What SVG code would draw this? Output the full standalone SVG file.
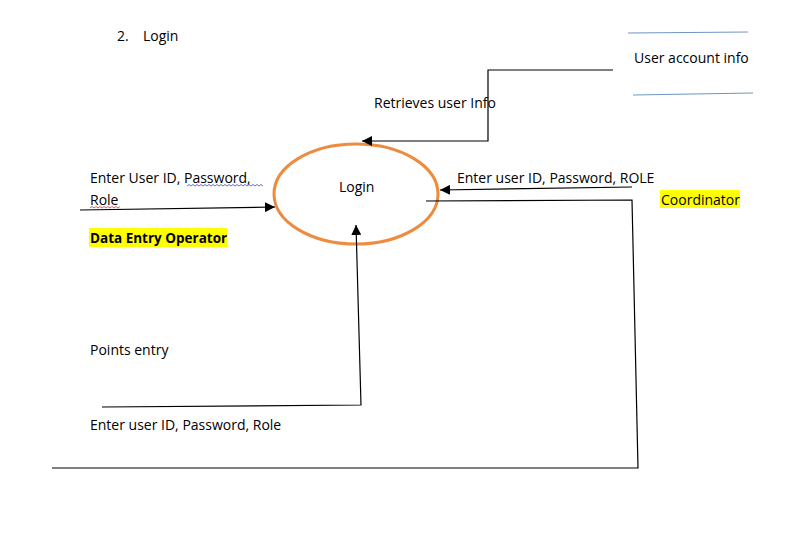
<svg xmlns="http://www.w3.org/2000/svg" width="810" height="535" viewBox="0 0 810 535">
<defs>
<style>
text{font-family:"Open Sans","Liberation Sans",sans-serif;font-size:14px;fill:#000}
.b{font-weight:bold;font-size:13.5px}
.ln{fill:none;stroke:#000;stroke-width:1.2}
.st{stroke:#6f95c5;stroke-width:1.2;fill:none}
.hl{fill:#ffff00}
</style>
<marker id="ah" viewBox="0 0 10 10" refX="10" refY="5" markerWidth="10" markerHeight="10" markerUnits="userSpaceOnUse" orient="auto"><path d="M0,0L10,5L0,10z" fill="#000"/></marker>
</defs>
<rect width="810" height="535" fill="#fff"/>
<text x="117" y="41">2.</text>
<text x="143" y="41">Login</text>
<g id="store">
<line class="st" x1="628" y1="33" x2="748" y2="32"/>
<line class="st" x1="633" y1="95" x2="753" y2="93"/>
<text x="634" y="63">User account info</text>
</g>
<g id="login">
<ellipse cx="356" cy="194" rx="82" ry="50" fill="none" stroke="#ed8b3f" stroke-width="3"/>
<text x="339" y="192">Login</text>
</g>
<g id="deo">
<rect class="hl" x="89" y="228" width="138" height="19"/>
<text class="b" x="90" y="243">Data Entry Operator</text>
</g>
<g id="coord">
<rect class="hl" x="660" y="190" width="80" height="18"/>
<text x="661" y="205">Coordinator</text>
</g>
<g id="labels">
<text x="374" y="108">Retrieves user Info</text>
<text x="90" y="183">Enter User ID, Password,</text>
<text x="90" y="205">Role</text>
<text x="457" y="183">Enter user ID, Password, ROLE</text>
<text x="90" y="355">Points entry</text>
<text x="90" y="430">Enter user ID, Password, Role</text>
<path d="M187,186 l2,-1.5 l2,1.5 l2,-1.5 l2,1.5 l2,-1.5 l2,1.5 l2,-1.5 l2,1.5 l2,-1.5 l2,1.5 l2,-1.5 l2,1.5 l2,-1.5 l2,1.5 l2,-1.5 l2,1.5 l2,-1.5 l2,1.5 l2,-1.5 l2,1.5 l2,-1.5 l2,1.5 l2,-1.5 l2,1.5 l2,-1.5 l2,1.5 l2,-1.5 l2,1.5 l2,-1.5 l2,1.5 l2,-1.5 l2,1.5 l2,-1.5 l2,1.5 l2,-1.5 l2,1.5 l2,-1.5 l2,1.5" fill="none" stroke="#3a4fd0" stroke-width="0.8"/>
<path d="M90,208 l2,-1.5 l2,1.5 l2,-1.5 l2,1.5 l2,-1.5 l2,1.5 l2,-1.5 l2,1.5 l2,-1.5 l2,1.5 l2,-1.5 l2,1.5 l2,-1.5 l2,1.5 l2,-1.5" fill="none" stroke="#e03030" stroke-width="0.8"/>
</g>
<g id="connectors">
<polyline class="ln" points="613,70 488,70 488,141 362,141" marker-end="url(#ah)"/>
<line class="ln" x1="80" y1="210" x2="275" y2="207" marker-end="url(#ah)"/>
<line class="ln" x1="632" y1="187" x2="440" y2="190" marker-end="url(#ah)"/>
<polyline class="ln" points="426,201 632,200 638,468 52,468"/>
<polyline class="ln" points="102,407 361,405 356,225" marker-end="url(#ah)"/>
</g>
</svg>
